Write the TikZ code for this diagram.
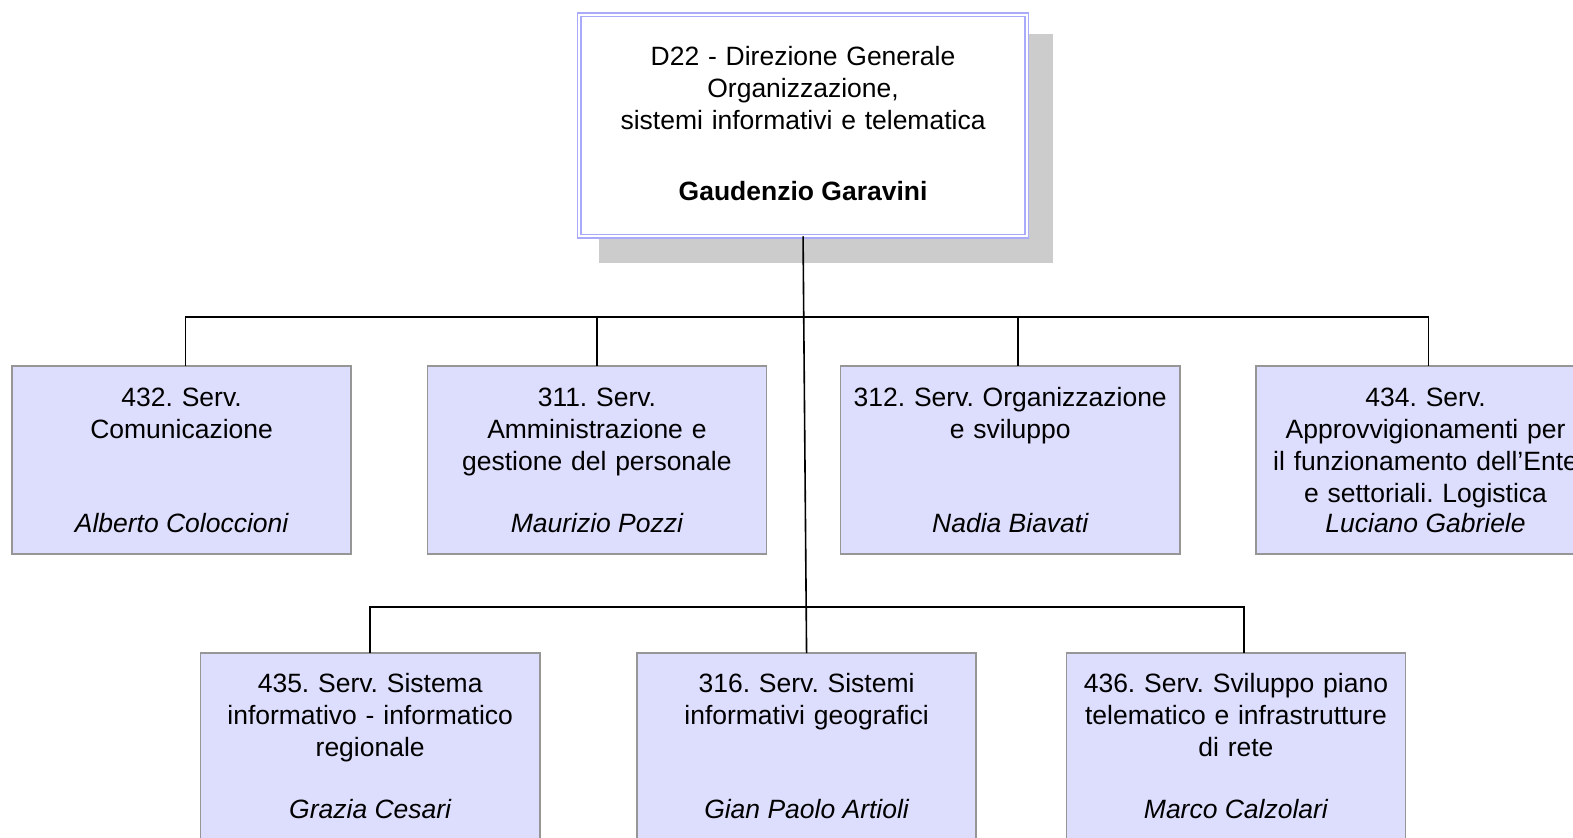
\documentclass[tikz,border=0pt]{standalone}
\usepackage{fontspec}
\setmainfont{Liberation Sans}
\frenchspacing
\definecolor{boxfill}{RGB}{221,221,253}
\definecolor{boxgray}{RGB}{150,150,150}
\definecolor{mainblue}{RGB}{170,170,250}
\definecolor{shadowgray}{RGB}{204,204,204}
\begin{document}
\begin{tikzpicture}[x=1pt,y=-1pt,
  conn/.style={line width=1.6pt,black},
  sbox/.style={draw=boxgray,line width=1.6pt,fill=boxfill,minimum width=338pt,minimum height=187pt,inner sep=0pt,outer sep=0pt,anchor=north west},
  title/.style={anchor=base,text width=330pt,align=center,font=\fontsize{26.4}{32}\selectfont,inner sep=0pt},
  who/.style={anchor=base,font=\fontsize{26.4}{32}\selectfont\itshape,inner sep=0pt}]
\useasboundingbox (0,0) rectangle (1568,835);
\clip (0,0) rectangle (1568,835);
\fill[shadowgray] (597,34) rectangle (1050,262);
\node[draw=mainblue,double=white,double distance=2pt,line width=1.5pt,fill=white,minimum width=446pt,minimum height=221pt,anchor=north west,inner sep=0pt,outer sep=0pt] (main) at (577.5,14.5) {};
\node[title,text width=440pt] (mt) at (800.5,65.5) {D22 - Direzione Generale\\Organizzazione,\\sistemi informativi e telematica};
\node[anchor=base,inner sep=0pt,font=\fontsize{26.4}{32}\selectfont\bfseries] (mn) at (800.5,199.5) {Gaudenzio Garavini};
% row 1
\node[sbox] (b1) at (12,365) {};
\node[sbox] (b2) at (426,365) {};
\node[sbox] (b3) at (838,365) {};
\node[sbox] (b4) at (1252,365) {};
% row 2
\node[sbox,minimum height=210pt] (b5) at (200,651) {};
\node[sbox,minimum height=210pt] (b6) at (635,651) {};
\node[sbox,minimum height=210pt] (b7) at (1063,651) {};
% texts
\node[title] (t1) at ([yshift=-40pt]b1.north) {432. Serv.\\Comunicazione};
\node[who] (n1) at ([yshift=-166pt]b1.north) {Alberto Coloccioni};
\node[title] (t2) at ([yshift=-40pt]b2.north) {311. Serv.\\Amministrazione e\\gestione del personale};
\node[who] (n2) at ([yshift=-166pt]b2.north) {Maurizio Pozzi};
\node[title] (t3) at ([yshift=-40pt]b3.north) {312. Serv. Organizzazione\\e sviluppo};
\node[who] (n3) at ([yshift=-166pt]b3.north) {Nadia Biavati};
\node[title] (t4) at ([yshift=-40pt]b4.north) {434. Serv.\\Approvvigionamenti per\\il funzionamento dell’Ente\\e settoriali. Logistica};
\node[who] (n4) at ([yshift=-166pt]b4.north) {Luciano Gabriele};
\node[title] (t5) at ([yshift=-39pt]b5.north) {435. Serv. Sistema\\informativo - informatico\\regionale};
\node[who] (n5) at ([yshift=-165pt]b5.north) {Grazia Cesari};
\node[title] (t6) at ([yshift=-39pt]b6.north) {316. Serv. Sistemi\\informativi geografici};
\node[who] (n6) at ([yshift=-165pt]b6.north) {Gian Paolo Artioli};
\node[title] (t7) at ([yshift=-39pt]b7.north) {436. Serv. Sviluppo piano\\telematico e infrastrutture\\di rete};
\node[who] (n7) at ([yshift=-165pt]b7.north) {Marco Calzolari};
% connectors
\coordinate (bus) at (801,316);
\coordinate (bus2) at (804,605);
\draw[conn] (main.south) -- (b6.north);
\draw[conn] ([xshift=4pt]b1.north) |- (bus) -| ([xshift=3pt]b4.north);
\draw[conn] (b2.north) -- (b2.north |- bus);
\draw[conn] ([xshift=8pt]b3.north) -- ([xshift=8pt]b3.north |- bus);
\draw[conn] (b5.north) |- (bus2) -| ([xshift=8pt]b7.north);
\end{tikzpicture}
\end{document}
